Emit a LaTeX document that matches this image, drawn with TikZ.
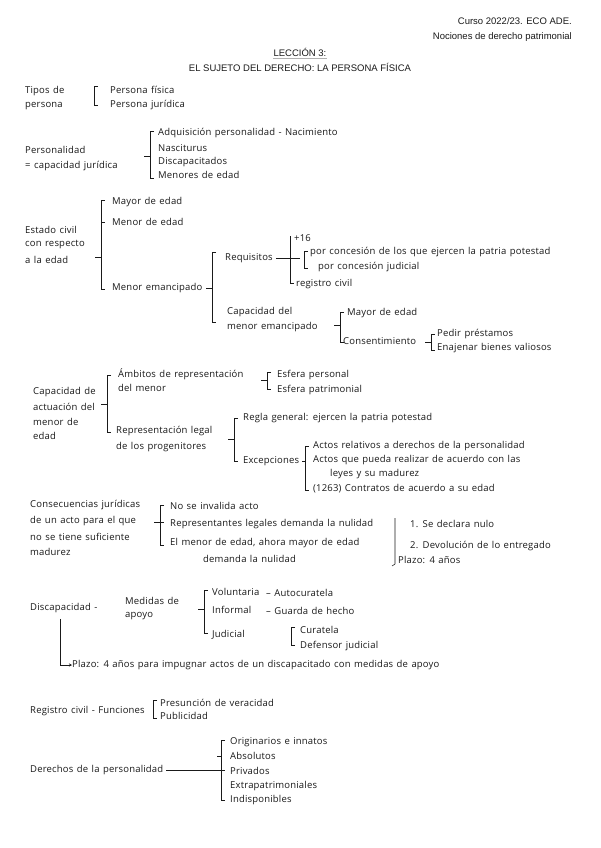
\documentclass[tikz,border=0pt]{standalone}
\usepackage{fontspec}
\setmainfont[LetterSpace=2, WordSpace=1.3]{Open Sans}
\newfontfamily\hdrfont{Liberation Sans}
\usepackage{tikz}
\usetikzlibrary{arrows.meta, positioning, calc}
\definecolor{kink}{HTML}{1A1A1A}
\definecolor{kline}{HTML}{B0B0B0}

\tikzset{
  hw/.style={font=\fontsize{9.5}{11}\selectfont, text=kink, anchor=west, inner sep=0pt},
  hdr/.style={font=\hdrfont\fontsize{9.5}{11}\selectfont, text=kink, inner sep=0pt},
  brk/.style={draw=kink, line width=0.55pt}
}
% bracket: x, top, bottom (short ends to the right)
\newcommand{\kbr}[3]{\draw[brk] (#1+4,#2) -- (#1,#2) -- (#1,#3) -- (#1+4,#3);}
% tick to the left of a bracket: x, y
\newcommand{\ktick}[2]{\draw[brk] (#1,#2) -- (#1-6,#2);}

\begin{document}
\begin{tikzpicture}[x=1pt, y=-1pt]

%% Page
\useasboundingbox (0,0) rectangle (600,848);
\fill[white] (0,0) rectangle (600,848);

%% ── Header ──────────────────────────────────────────────────────────────
\node[hdr, anchor=east] (curso) at (572,21) {Curso 2022/23. ECO ADE.};
\node[hdr, anchor=east] (asig) at (572,37) {Nociones de derecho patrimonial};
\node[hdr] (leccion) at (300,52) {LECCIÓN 3:};
\draw[kline, line width=0.4pt] ($(leccion.south west)+(0,2)$) -- ($(leccion.south east)+(0,2)$);
\node[hdr] (titulo) at (300,67) {EL SUJETO DEL DERECHO: LA PERSONA FÍSICA};

%% ── Tipos de persona ────────────────────────────────────────────────────
\node[hw] (tipos1) at (25,91) {Tipos de};
\node[hw] (tipos2) at (25,106) {persona};
\kbr{94}{86}{105}
\node[hw] (pfis) at (110,90) {Persona física};
\node[hw] (pjur) at (110,105) {Persona jurídica};

%% ── Personalidad ────────────────────────────────────────────────────────
\node[hw] (pers1) at (25,150) {Personalidad};
\node[hw] (pers2) at (25,166) {= capacidad jurídica};
\kbr{150}{131}{178}
\ktick{150}{156}
\node[hw] (adq) at (158,133) {Adquisición personalidad - Nacimiento};
\node[hw] (nasc) at (158,148) {Nasciturus};
\node[hw] (discap) at (158,162) {Discapacitados};
\node[hw] (menores) at (158,175) {Menores de edad};

%% ── Estado civil ────────────────────────────────────────────────────────
\node[hw] (ec1) at (25,230) {Estado civil};
\node[hw] (ec2) at (25,245) {con respecto};
\node[hw] (ec3) at (25,260) {a la edad};
\kbr{101}{200}{289}
\ktick{101}{257}
\draw[brk] (101,222) -- (105,222);
\node[hw] (mayor) at (112,202) {Mayor de edad};
\node[hw] (menor) at (112,222) {Menor de edad};
\node[hw] (emanc) at (112,288) {Menor emancipado};

\kbr{212}{252}{322}
\ktick{212}{288}
\node[hw] (req) at (225,258) {Requisitos};
\draw[brk] (290,236) -- (290,283) -- (294,283);
\draw[brk] ($(req.east)+(3,0)$) -- (300,258);
\kbr{304}{251}{268}
\node[hw] (dieciseis) at (294,238) {+16};
\node[hw] (conc1) at (310,252) {por concesión de los que ejercen la patria potestad};
\node[hw] (conc2) at (318,267) {por concesión judicial};
\node[hw] (regciv) at (296,284) {registro civil};

\node[hw] (capem1) at (227,312) {Capacidad del};
\node[hw] (capem2) at (227,327) {menor emancipado};
\kbr{340}{312}{342}
\ktick{340}{325}
\node[hw] (mayor2) at (347,313) {Mayor de edad};
\node[hw] (consent) at (343,341) {Consentimiento};
\kbr{431}{334}{350}
\ktick{431}{342}
\node[hw] (prest) at (437,334) {Pedir préstamos};
\node[hw] (enaj) at (437,348) {Enajenar bienes valiosos};

%% ── Capacidad de actuación ──────────────────────────────────────────────
\node[hw] (cact1) at (33,392) {Capacidad de};
\node[hw] (cact2) at (33,407) {actuación del};
\node[hw] (cact3) at (33,422) {menor de};
\node[hw] (cact4) at (33,436) {edad};
\kbr{107}{375}{432}
\ktick{107}{404}
\node[hw] (amb1) at (118,374) {Ámbitos de representación};
\node[hw] (amb2) at (118,388) {del menor};
\kbr{267}{372}{389}
\ktick{267}{380}
\node[hw] (espers) at (277,375) {Esfera personal};
\node[hw] (espat) at (277,390) {Esfera patrimonial};

\node[hw] (rep1) at (116,431) {Representación legal};
\node[hw] (rep2) at (116,447) {de los progenitores};
\kbr{234}{418}{461}
\ktick{234}{439}
\node[hw] (regla) at (243,418) {Regla general: ejercen la patria potestad};
\node[hw] (excep) at (243,461) {Excepciones};
\draw[brk] ($(excep.east)+(3,0)$) -- (305,461);
\kbr{305}{446}{490}
\node[hw] (act1) at (313,446) {Actos relativos a derechos de la personalidad};
\node[hw] (act2) at (313,460) {Actos que pueda realizar de acuerdo con las};
\node[hw] (act2b) at (330,474) {leyes y su madurez};
\node[hw] (act3) at (313,489) {(1263) Contratos de acuerdo a su edad};

%% ── Consecuencias jurídicas ─────────────────────────────────────────────
\node[hw] (cons1) at (30,505) {Consecuencias jurídicas};
\node[hw] (cons2) at (30,521) {de un acto para el que};
\node[hw] (cons3) at (30,537) {no se tiene suficiente};
\node[hw] (cons4) at (30,552) {madurez};
\kbr{160}{505}{545}
\ktick{160}{522}
\draw[brk] (160,522) -- (164,522);
\node[hw] (noinv) at (170,506) {No se invalida acto};
\node[hw] (replg) at (170,524) {Representantes legales demanda la nulidad};
\node[hw] (mnr1) at (170,543) {El menor de edad, ahora mayor de edad};
\node[hw] (mnr2) at (203,559) {demanda la nulidad};
\draw[brk] (395,518) -- (395,564) -- (392,566);
\node[hw] (nulo) at (410,524) {1. Se declara nulo};
\node[hw] (devol) at (410,546) {2. Devolución de lo entregado};
\node[hw] (plazo1) at (398,560) {Plazo: 4 años};

%% ── Discapacidad ────────────────────────────────────────────────────────
\node[hw] (disc) at (30,608) {Discapacidad -};
\node[hw] (medid1) at (125,601) {Medidas de};
\node[hw] (medid2) at (125,616) {apoyo};
\kbr{204}{590}{633}
\ktick{204}{609}
\node[hw] (volun) at (212,592) {Voluntaria};
\node[hw] (autoc) at (266,593) {– Autocuratela};
\node[hw] (inform) at (212,610) {Informal};
\node[hw] (guarda) at (266,611) {– Guarda de hecho};
\node[hw] (judic) at (212,635) {Judicial};
\kbr{291}{627}{645}
\node[hw] (curat) at (300,630) {Curatela};
\node[hw] (defens) at (300,646) {Defensor judicial};
\node[hw] (plazo2) at (72,665) {Plazo: 4 años para impugnar actos de un discapacitado con medidas de apoyo};
\draw[brk, -{Stealth[length=3pt, width=3pt]}] ($(disc.south west)+(30,6)$) |- (plazo2.west);

%% ── Registro civil ──────────────────────────────────────────────────────
\node[hw] (regc) at (30,711) {Registro civil - Funciones};
\kbr{153}{700}{718}
\node[hw] (presun) at (160,703) {Presunción de veracidad};
\node[hw] (public) at (160,716) {Publicidad};

%% ── Derechos de la personalidad ─────────────────────────────────────────
\node[hw] (derp) at (30,770) {Derechos de la personalidad};
\kbr{221}{740}{800}
\draw[brk] ($(derp.east)+(3,0)$) -- (225,770);
\draw[brk] (221,756) -- (217,756);
\node[hw] (orig) at (230,742) {Originarios e innatos};
\node[hw] (absol) at (230,756) {Absolutos};
\node[hw] (priv) at (230,771) {Privados};
\node[hw] (extra) at (230,786) {Extrapatrimoniales};
\node[hw] (indisp) at (230,800) {Indisponibles};

\end{tikzpicture}
\end{document}
